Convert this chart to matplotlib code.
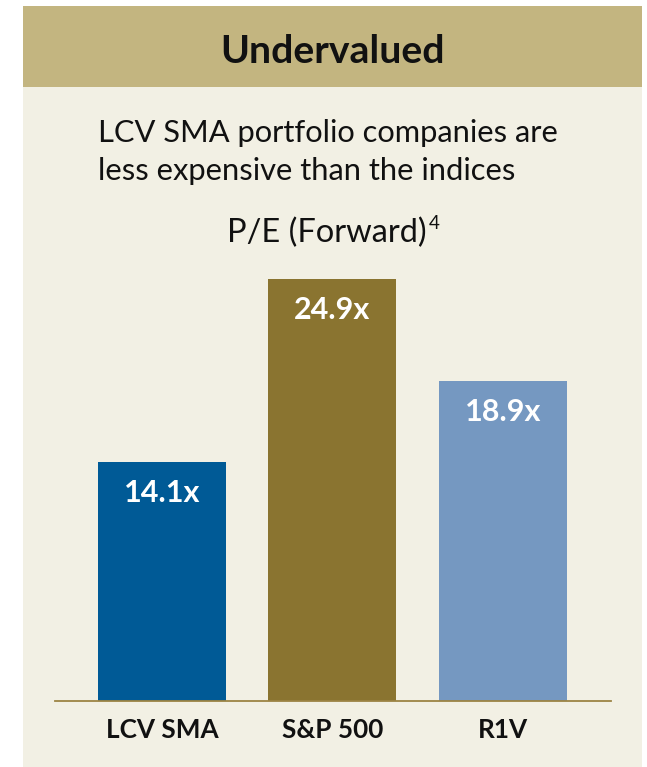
import matplotlib
matplotlib.use("Agg")
import matplotlib.pyplot as plt
from matplotlib.patches import Rectangle

# ---- data ----
categories = ["LCV SMA", "S&P 500", "R1V"]
pe_forward = [14.1, 24.9, 18.9]
value_labels = ["14.1x", "24.9x", "18.9x"]
title = "Undervalued"
subtitle_lines = ["LCV SMA portfolio companies are", "less expensive than the indices"]
metric_title = "P/E (Forward)"
footnote_mark = "4"

# ---- style ----
W, H = 647, 767
DPI = 100
FONT = "Lato"
header_color = "#C3B580"
panel_color = "#F2F0E4"
bar_colors = ["#005A96", "#8A7430", "#7598C1"]
baseline_color = "#9C8444"

fig = plt.figure(figsize=(W / DPI, H / DPI), dpi=DPI)
fig.patch.set_facecolor("white")

def fx(px):
    return px / W

def fy(py):
    return 1 - py / H

# panel + header
fig.patches.append(Rectangle((fx(22.5), fy(767)), fx(641.7 - 22.5), (767 - 87) / H,
                             transform=fig.transFigure, facecolor=panel_color,
                             edgecolor="none", zorder=-2))
fig.patches.append(Rectangle((fx(22.5), fy(87)), fx(641.7 - 22.5), (87 - 6) / H,
                             transform=fig.transFigure, facecolor=header_color,
                             edgecolor="none", zorder=-2))

fig.text(fx(332.5), fy(63), title, ha="center", va="baseline",
         fontsize=28.2, fontweight="bold", family=FONT, color="#111111")

for i, line in enumerate(subtitle_lines):
    fig.text(fx(98.5), fy(142 + 38 * i), line, ha="left", va="baseline",
             fontsize=22.2, family=FONT, color="#111111")

# ---- bars ----
ax_left, ax_right = 55, 611
ax_bottom, ax_top = 701, 277.3
ax = fig.add_axes([fx(ax_left), fy(ax_bottom), fx(ax_right - ax_left), (ax_bottom - ax_top) / H])
ax.set_facecolor("none")
ax.set_zorder(1)
x = list(range(len(categories)))
bars = ax.bar(x, pe_forward, width=0.75, color=bar_colors, zorder=2)
ax.set_xlim(-0.627, 2.634)
ax.set_ylim(0, 25)
for s in ["top", "right", "left"]:
    ax.spines[s].set_visible(False)
ax.spines["bottom"].set_color(baseline_color)
ax.spines["bottom"].set_linewidth(1.3)
ax.spines["bottom"].set_zorder(3)
ax.set_yticks([])
ax.set_xticks([])

for xi, v, lab in zip(x, pe_forward, value_labels):
    ax.annotate(lab, xy=(xi, v), xytext=(0, -40), textcoords="offset pixels",
                ha="center", va="baseline", fontsize=22, fontweight="bold",
                family=FONT, color="white")

for xi, cat in zip(x, categories):
    ax.annotate(cat, xy=(xi, 0), xytext=(0, -37), textcoords="offset pixels",
                ha="center", va="baseline", fontsize=18.8, fontweight="bold",
                family=FONT, color="#111111", annotation_clip=False)

# metric title with superscript footnote, centred as a group
mt = fig.text(0, fy(242), metric_title, ha="left", va="baseline",
              fontsize=23.5, family=FONT, color="#111111")
sup = fig.text(0, fy(229), footnote_mark, ha="left", va="baseline",
               fontsize=13.5, family=FONT, color="#111111")
fig.canvas.draw()
r = fig.canvas.get_renderer()
w_main = mt.get_window_extent(r).width
w_sup = sup.get_window_extent(r).width
gap = 2
total = w_main + gap + w_sup
start = 333 - total / 2
mt.set_x(fx(start))
sup.set_x(fx(start + w_main + gap))

fig.savefig("out.png", dpi=DPI, facecolor=fig.get_facecolor())
